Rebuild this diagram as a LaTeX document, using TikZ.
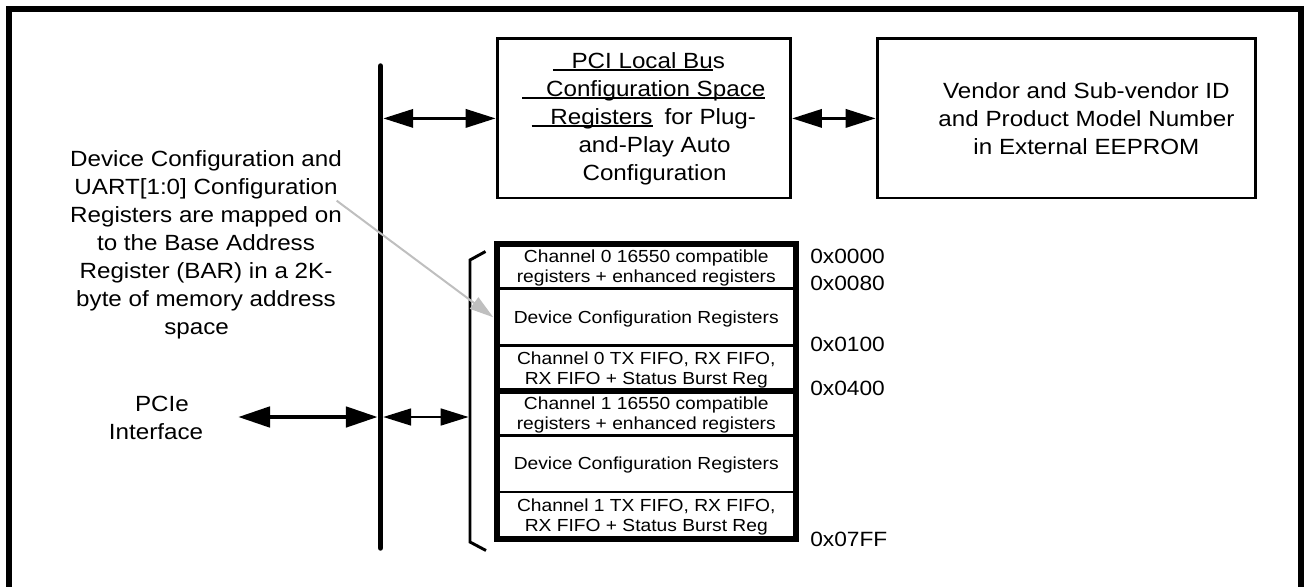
\documentclass[tikz,border=0pt]{standalone}
\usepackage{fontspec}
\setmainfont{Liberation Sans}[FakeStretch=1.1]
\usetikzlibrary{arrows.meta}
\newsavebox\ulbx
\newcommand\myUline[1]{\sbox\ulbx{#1}\rlap{\rule[-2.5pt]{\wd\ulbx}{2pt}}\usebox\ulbx}
\begin{document}
\begin{tikzpicture}[x=0.75pt,y=-0.75pt,
  mainfont/.style={font=\fontsize{16.5pt}{21pt}\selectfont},
  regfont/.style={font=\fontsize{13.1pt}{15pt}\selectfont},
  addrfont/.style={font=\fontsize{15.5pt}{18pt}\selectfont},
  blockbox/.style={draw, line width=2.2pt, inner sep=0pt, align=center, mainfont},
  bigtip/.style={{Triangle[length=22.5pt,width=13.5pt]}-{Triangle[length=22.5pt,width=13.5pt]}, line width=2.6pt},
  pcietip/.style={{Triangle[length=24pt,width=15pt]}-{Triangle[length=24pt,width=15pt]}, line width=3.6pt},
  smalltip/.style={{Triangle[length=21pt,width=12.5pt]}-{Triangle[length=21pt,width=12.5pt]}, line width=2pt},
  graytip/.style={-{Triangle[length=18pt,width=10.5pt]}, line width=1.5pt, draw=black!25, fill=black!25},
  regtext/.style={regfont, align=center, inner sep=0pt},
  addr/.style={addrfont, anchor=base west, inner sep=0pt},
]
\useasboundingbox (0,0) rectangle (1304,586);
\clip (0,0) rectangle (1304,586);
% outer frame
\draw[line width=4.5pt, line join=miter] (9,600) -- (9,9) -- (1301,9) -- (1301,600);

% bus
\coordinate (busT) at (380.5,66);
\coordinate (busB) at (380.5,548);
\draw[line width=4.1pt, line cap=round] (busT) -- (busB);

% top boxes
\node[blockbox, minimum width=220pt, minimum height=119.4pt] (pci) at (643.85,118.4)
 {\myUline{\hspace{14pt}PCI Local Bu}s\hspace*{7.5pt}\\
  \myUline{\hspace{17.8pt}Configuration Space}\\
  \myUline{\hspace{14pt}Registers}\hspace{9pt}for Plug-\\
  \hspace*{16pt}and-Play Auto\\
  \hspace*{16pt}Configuration};
\node[blockbox, minimum width=283.9pt, minimum height=119.4pt] (vend) at (1066.45,118.4)
 {\hspace*{30pt}Vendor and Sub-vendor ID\\
  \hspace*{30pt}and Product Model Number\\
  \hspace*{30pt}in External EEPROM};

\draw[bigtip] ([xshift=2pt]busT |- pci.west) -- (pci.west);
\draw[bigtip] (pci.east) -- (vend.west);

% left description
\node[mainfont, align=center, inner sep=0pt] (desc) at (206,245)
 {Device Configuration and\\
  UART[1:0] Configuration\\
  Registers are mapped on\\
  to the Base Address\hspace*{8pt}\\
  Register (BAR) in a 2K-\\
  byte of memory address\\
  space\hspace*{14pt}};

\node[mainfont, align=center, inner sep=0pt] (pcie) at (156,417.5)
 {\hspace*{9pt}PCIe\\Interface};

% register block
\coordinate (rtl) at (497,244);
\coordinate (rbr) at (795.5,539);
\foreach \yy in {288.5,345.5,435.5,492}
  \draw[line width=2.2pt] (rtl |- 0,\yy) -- (rbr |- 0,\yy);
\draw[line width=4.5pt] (rtl |- 0,391) -- (rbr |- 0,391);
\draw[line width=4.5pt, line join=miter] (rtl) rectangle (rbr);

\node[regtext] (r1) at (646.25,267.75) {Channel 0 16550 compatible\\registers + enhanced registers};
\node[regtext] (r2) at (646.25,318.5) {Device Configuration Registers};
\node[regtext] (r3) at (646.25,369.75) {Channel 0 TX FIFO, RX FIFO,\\RX FIFO + Status Burst Reg};
\node[regtext] (r4) at (646.25,414.75) {Channel 1 16550 compatible\\registers + enhanced registers};
\node[regtext] (r5) at (646.25,465.25) {Device Configuration Registers};
\node[regtext] (r6) at (646.25,517) {Channel 1 TX FIFO, RX FIFO,\\RX FIFO + Status Burst Reg};

\node[addr] (a0) at (810,263.3) {0x0000};
\node[addr] (a1) at (810,290) {0x0080};
\node[addr] (a2) at (810,351.7) {0x0100};
\node[addr] (a3) at (810,395) {0x0400};
\node[addr] (a4) at (810,546.7) {0x07FF};

% bracket
\coordinate (brT) at (470,260);
\coordinate (brB) at (470,542);
\draw[line width=2.2pt, line join=miter] (485.5,251.5) -- (brT) -- (brB) -- (486,550.5);

% lower arrows
\coordinate (pcieEnd) at (238,417);
\draw[pcietip] (pcieEnd) -- ([xshift=-2pt]busB |- pcieEnd);
\draw[smalltip] ([xshift=2pt]busB |- pcieEnd) -- ([xshift=-1pt]brB |- pcieEnd);

% gray pointer
\coordinate (gStart) at (336.7,200.7);
\coordinate (gEnd) at (493.3,317.3);
\draw[graytip] (gStart) -- (gEnd);
\end{tikzpicture}
\end{document}
